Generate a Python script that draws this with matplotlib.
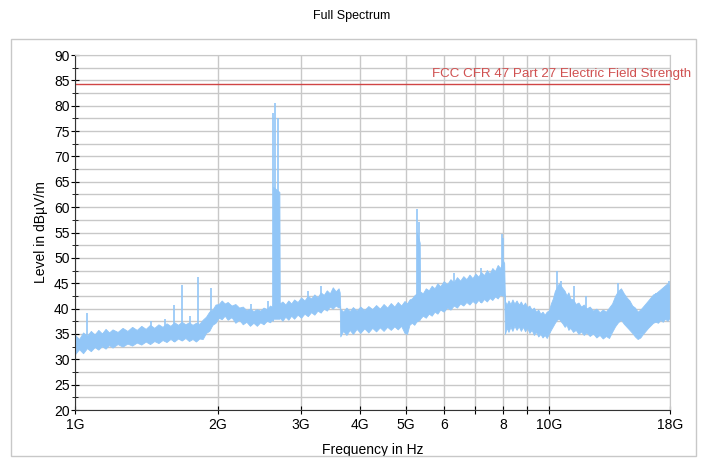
import numpy as np
import matplotlib.pyplot as plt
from matplotlib.patches import Rectangle

plt.rcParams['font.family'] = ['Liberation Sans', 'DejaVu Sans']

# spectrum envelope (GHz, dBuV/m)
freq = [1.00, 1.02, 1.04, 1.06, 1.08, 1.10, 1.12, 1.14, 1.16, 1.18, 1.20, 1.23,
        1.26, 1.29, 1.32, 1.35, 1.38, 1.41, 1.44, 1.47, 1.50, 1.53, 1.56, 1.59,
        1.62, 1.65, 1.68, 1.71, 1.74, 1.77, 1.80, 1.83, 1.86, 1.89, 1.92, 1.95,
        1.98, 2.01, 2.04, 2.07, 2.10, 2.14, 2.18, 2.22, 2.26, 2.30, 2.34, 2.38,
        2.42, 2.46, 2.50, 2.54, 2.58, 2.61, 2.615, 2.62, 2.70, 2.705, 2.74, 2.78,
        2.82, 2.86, 2.90, 2.95, 3.00, 3.05, 3.10, 3.15, 3.20, 3.25, 3.30, 3.35,
        3.40, 3.45, 3.50, 3.55, 3.60, 3.62, 3.63, 3.68, 3.74, 3.80, 3.86, 3.93,
        4.00, 4.08, 4.16, 4.24, 4.32, 4.40, 4.48, 4.56, 4.64, 4.72, 4.80, 4.88,
        4.96, 5.02, 5.08, 5.14, 5.20, 5.26, 5.27, 5.34, 5.35, 5.42, 5.50, 5.58,
        5.66, 5.74, 5.82, 5.90, 6.00, 6.10, 6.20, 6.30, 6.40, 6.50, 6.60, 6.70,
        6.80, 6.90, 7.00, 7.10, 7.20, 7.30, 7.40, 7.50, 7.60, 7.70, 7.80, 7.90,
        8.00, 8.05, 8.08, 8.15, 8.22, 8.30, 8.38, 8.46, 8.55, 8.64, 8.73, 8.82,
        8.91, 9.00, 9.10, 9.20, 9.30, 9.40, 9.50, 9.60, 9.70, 9.80, 9.90, 10.0,
        10.1, 10.2, 10.3, 10.4, 10.5, 10.6, 10.7, 10.8, 10.9, 11.0, 11.1, 11.25,
        11.4, 11.55, 11.7, 11.85, 12.0, 12.2, 12.4, 12.6, 12.8, 13.0, 13.2, 13.4,
        13.6, 13.8, 14.0, 14.2, 14.4, 14.6, 14.8, 15.0, 15.2, 15.4, 15.6, 15.8,
        16.0, 16.2, 16.4, 16.6, 16.8, 17.0, 17.2, 17.4, 17.6, 17.8, 18.0]
level_lo = [31.0, 32.0, 31.2, 32.2, 31.6, 32.4, 31.9, 32.6, 32.1, 32.8, 32.3, 33.0,
            32.5, 33.1, 32.7, 33.3, 32.9, 33.5, 33.0, 33.6, 33.2, 33.8, 33.4, 34.0,
            33.5, 34.1, 33.7, 34.2, 33.6, 34.0, 33.5, 34.1, 34.0, 35.2, 35.6, 36.8,
            37.2, 38.2, 37.9, 38.6, 37.8, 38.3, 37.2, 37.8, 36.9, 37.4, 36.6, 37.2,
            36.6, 37.3, 36.9, 37.6, 37.3, 37.9, 37.6, 38.0, 38.0, 38.2, 37.6, 38.4,
            37.8, 38.6, 38.0, 38.8, 38.2, 39.0, 38.5, 39.3, 38.8, 39.6, 39.2, 40.0,
            39.6, 40.4, 40.0, 40.6, 40.2, 40.5, 34.5, 35.6, 34.8, 35.8, 35.0, 36.0,
            35.2, 36.1, 35.3, 36.2, 35.5, 36.3, 35.6, 36.4, 35.8, 36.5, 35.9, 36.6,
            35.2, 35.0, 36.8, 37.2, 36.8, 37.5, 37.5, 37.8, 38.0, 38.6, 38.2, 39.0,
            38.6, 39.4, 39.0, 39.8, 39.4, 40.2, 39.8, 40.6, 40.2, 41.0, 40.6, 41.3,
            40.8, 41.5, 41.0, 41.7, 41.2, 41.9, 41.4, 42.1, 41.7, 42.4, 42.0, 42.8,
            42.5, 43.0, 35.0, 36.2, 35.4, 36.4, 35.6, 36.6, 35.8, 36.5, 35.6, 36.4,
            35.5, 36.2, 35.2, 35.8, 34.8, 35.4, 34.5, 35.0, 34.3, 34.8, 34.2, 35.0,
            35.8, 36.5, 37.2, 37.8, 38.0, 37.5, 37.0, 36.4, 36.8, 35.8, 36.2, 35.4,
            35.8, 35.0, 35.5, 34.8, 35.3, 34.6, 35.1, 34.3, 34.8, 34.1, 34.6, 34.2,
            35.4, 36.5, 37.3, 37.8, 37.0, 36.4, 35.8, 35.2, 34.5, 34.0, 34.3, 35.0,
            35.6, 36.2, 36.7, 37.2, 37.4, 37.2, 37.8, 37.4, 38.0, 37.6, 38.2]
level_hi = [34.8, 34.0, 35.3, 34.6, 35.6, 34.9, 35.8, 35.1, 36.0, 35.3, 35.9, 35.4,
            36.2, 35.6, 36.4, 35.8, 36.6, 36.0, 36.8, 36.2, 36.9, 36.4, 37.1, 36.6,
            37.3, 36.8, 37.4, 36.9, 37.3, 36.8, 37.2, 37.0, 37.8, 38.4, 39.4, 39.8,
            40.8, 40.9, 41.6, 41.0, 41.3, 40.6, 40.9, 40.2, 40.4, 39.7, 40.0, 39.5,
            39.9, 39.6, 40.2, 39.9, 40.6, 40.3, 41.0, 64.0, 63.0, 41.0, 41.4, 40.8,
            41.6, 41.0, 41.8, 41.3, 42.2, 41.6, 42.5, 42.0, 42.8, 42.2, 43.2, 42.7,
            43.6, 43.0, 44.2, 43.4, 44.0, 43.2, 40.0, 39.4, 40.2, 39.5, 40.3, 39.6,
            40.4, 39.7, 40.5, 39.9, 40.7, 40.0, 40.9, 40.2, 41.1, 40.4, 41.3, 40.6,
            41.5, 41.0, 41.8, 42.0, 42.6, 43.0, 55.0, 53.0, 43.4, 43.0, 44.0, 43.6,
            44.5, 44.0, 45.0, 44.4, 45.4, 44.8, 45.8, 45.2, 46.2, 45.5, 46.4, 45.8,
            46.7, 46.0, 46.9, 46.3, 47.2, 46.6, 47.6, 46.9, 48.0, 47.4, 48.6, 48.0,
            49.5, 49.0, 41.5, 40.8, 41.6, 40.9, 41.8, 41.0, 41.6, 40.8, 41.4, 40.6,
            41.2, 40.3, 40.6, 39.8, 40.2, 39.4, 39.8, 39.0, 39.4, 38.8, 39.4, 39.6,
            41.0, 42.0, 43.5, 44.2, 45.0, 44.5, 44.0, 43.5, 42.6, 43.2, 42.0, 41.8,
            40.9, 41.2, 40.4, 40.8, 40.0, 40.4, 39.6, 40.0, 39.3, 39.8, 39.4, 40.2,
            41.0, 42.5, 43.5, 44.0, 43.0, 42.2, 41.6, 40.6, 40.2, 39.4, 39.8, 40.4,
            41.0, 41.6, 42.2, 42.8, 43.0, 43.4, 43.8, 44.2, 44.6, 45.0, 44.5]

# narrow spikes (GHz, peak level)
spike_freq = [1.06, 1.45, 1.55, 1.62, 1.68, 1.75, 1.82, 1.94, 2.35, 2.55, 2.62, 2.64,
              2.68, 3.10, 3.30, 5.28, 5.33, 6.30, 7.20, 7.98, 8.00, 10.4, 10.6, 11.3,
              12.0, 14.0, 16.8, 17.9]
spike_top = [39.1, 37.5, 38.0, 40.7, 44.6, 38.5, 46.2, 44.0, 41.0, 41.5, 78.5, 80.5,
             77.5, 43.5, 44.5, 59.7, 57.0, 47.0, 48.0, 54.8, 54.0, 47.4, 45.5, 44.5,
             42.5, 45.0, 43.0, 45.5]

limit_level = 84.3
limit_label = "FCC CFR 47 Part 27 Electric Field Strength"

x_ticks = [1, 2, 3, 4, 5, 6, 7, 8, 9, 10, 18]
x_labels = ["1G", "2G", "3G", "4G", "5G", "6", "", "8", "", "10G", "18G"]

fig = plt.figure(figsize=(7.03, 4.61), dpi=100)
fig.patches.append(Rectangle((0.015, 0.01), 0.975, 0.905, transform=fig.transFigure,
                             fill=False, edgecolor="#c8c8c8", linewidth=1))
ax = fig.add_axes([0.1067, 0.1106, 0.846, 0.770])

blue = "#92c6f7"
ax.fill_between(freq, level_lo, level_hi, color=blue, linewidth=0.6, edgecolor=blue)
spike_base = np.interp(spike_freq, freq, level_lo)
ax.vlines(spike_freq, spike_base, spike_top, color=blue, linewidth=1.2)

ax.axhline(limit_level, color="#d04545", linewidth=1)
ax.text(5.66, limit_level + 0.8, limit_label, color="#d05050", fontsize=9.6, ha="left",
        va="bottom", clip_on=False)

ax.set_xscale("log")
ax.set_xlim(1, 18)
ax.set_ylim(20, 90)
ax.set_xticks(x_ticks)
ax.set_xticklabels(x_labels, fontsize=10)
ax.xaxis.set_minor_locator(plt.NullLocator())
ax.set_yticks(np.arange(20, 91, 5))
ax.set_yticks(np.arange(22.5, 90, 5), minor=True)
ax.tick_params(axis="y", labelsize=10, direction="inout", length=6, pad=1)
ax.tick_params(axis="y", which="minor", direction="inout", length=5)
ax.tick_params(axis="x", direction="inout", length=6, pad=3)
ax.grid(True, which="both", axis="y", color="#c8c8c8", linewidth=1)
ax.grid(True, which="major", axis="x", color="#c8c8c8", linewidth=1)
ax.set_axisbelow(True)
for s in ["top", "right"]:
    ax.spines[s].set_color("#c8c8c8")
ax.spines["left"].set_color("#333333")
ax.spines["bottom"].set_color("#333333")

ax.set_ylabel("Level in dBµV/m", fontsize=10, labelpad=4)
ax.set_xlabel("Frequency in Hz", fontsize=10, labelpad=8)
fig.text(0.5, 0.965, "Full Spectrum", ha="center", va="center", fontsize=9)

fig.savefig("out.png", dpi=100)
